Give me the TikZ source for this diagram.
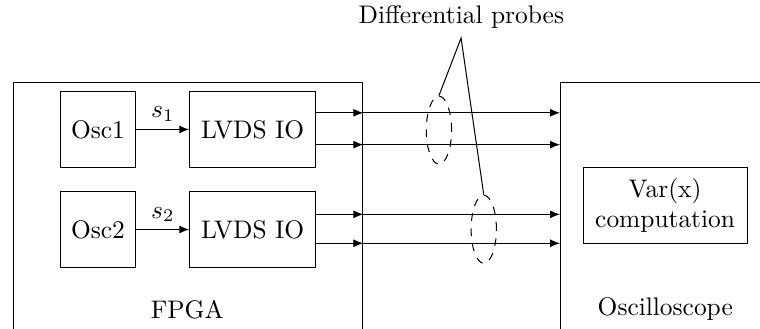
\documentclass[tikz,border=0pt]{standalone}
\usepackage{amsmath}
\usepackage{tikz}
\usetikzlibrary{arrows, arrows.meta, positioning, shapes.geometric}

\begin{document}
\begin{tikzpicture}[node distance=0.73cm]
 \tikzstyle{blockbox}=[rectangle,draw=black,minimum height=1.04cm,text centered]
 \tikzstyle{probering}=[ellipse,draw=black,dashed,minimum width=0.35cm,
   minimum height=0.94cm,inner sep=0pt]
 \tikzstyle{wire}=[-{Latex[length=3.9pt,width=3.1pt]}]
 \path[use as bounding box] (0,0) rectangle (10.51,-4.537);
 \clip (0,0) rectangle (10.51,-4.537);
 % the two big boxes run out of the picture at the bottom
 \node (fpga) [draw,minimum width=4.83cm,minimum height=3.6cm,anchor=north west]
   at (0.18,-1.134) {};
 \node (scope) [draw,minimum width=3.5cm,minimum height=3.6cm,anchor=north west]
   at (7.745,-1.134) {};
 \node (fpgalabel) [anchor=base] at (2.59,-4.40) {FPGA};
 \node (scopelabel) [anchor=base] at (9.2,-4.357) {Oscilloscope};
 \node (osc1) [blockbox,minimum width=1.05cm] at (1.355,-1.79) {Osc1};
 \node (lvds1) [blockbox,minimum width=1.74cm,right=of osc1] {LVDS IO};
 \node (osc2) [blockbox,minimum width=1.05cm,below=0.33cm of osc1] {Osc2};
 \node (lvds2) [blockbox,minimum width=1.74cm,right=of osc2] {LVDS IO};
 \node (varx) [blockbox,minimum width=2.27cm,align=center] at (9.198,-2.842)
   {Var(x)\\computation};
 \draw[wire] (osc1) -- node[above=-0.5pt] {$s_1$} (lvds1);
 \draw[wire] (osc2) -- node[above=-0.5pt] {$s_2$} (lvds2);
 % pins out of the FPGA
 \draw[wire] ([yshift=0.23cm]lvds1.east) -- ([yshift=0.23cm]lvds1.east -| fpga.east);
 \draw[wire] ([yshift=-0.21cm]lvds1.east) -- ([yshift=-0.21cm]lvds1.east -| fpga.east);
 \draw[wire] ([yshift=0.21cm]lvds2.east) -- ([yshift=0.21cm]lvds2.east -| fpga.east);
 \draw[wire] ([yshift=-0.19cm]lvds2.east) -- ([yshift=-0.19cm]lvds2.east -| fpga.east);
 % wires to the scope
 \draw[wire] ([yshift=0.23cm]lvds1.east -| fpga.east) -- ([yshift=0.23cm]lvds1.east -| scope.west);
 \draw[wire] ([yshift=-0.21cm]lvds1.east -| fpga.east) -- ([yshift=-0.21cm]lvds1.east -| scope.west);
 \draw[wire] ([yshift=0.21cm]lvds2.east -| fpga.east) -- ([yshift=0.21cm]lvds2.east -| scope.west);
 \draw[wire] ([yshift=-0.19cm]lvds2.east -| fpga.east) -- ([yshift=-0.19cm]lvds2.east -| scope.west);
 % probes
 \node (probe1) [probering] at (6.07,-1.80) {};
 \node (probe2) [probering] at (6.69,-3.17) {};
 \node (probelabel) at (6.38,-0.235) {Differential probes};
 \coordinate (apex) at (6.376,-0.526);
 \draw (probe1.north) -- (apex) -- (probe2.north);
\end{tikzpicture}
\end{document}
